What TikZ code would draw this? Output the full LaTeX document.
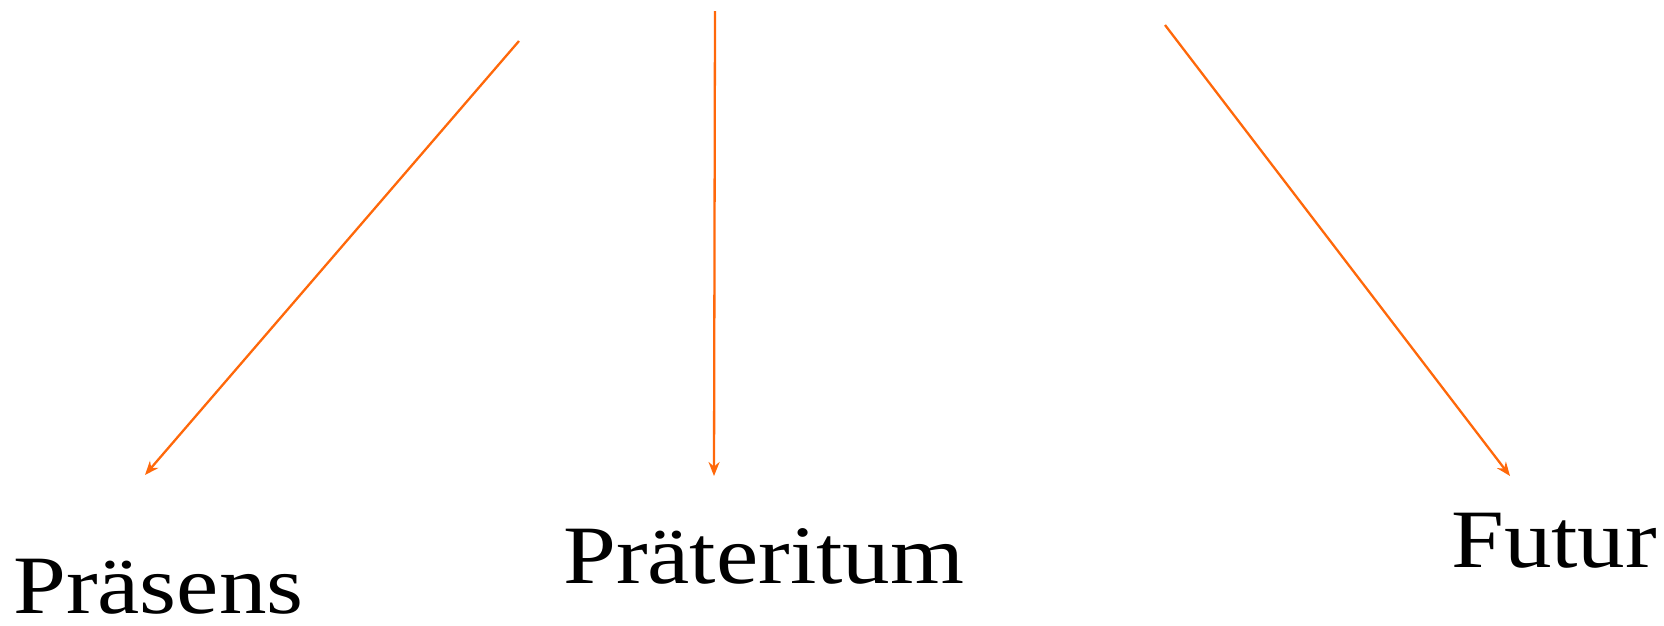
\documentclass[tikz,border=0pt]{standalone}
\usepackage{fontspec}
\setmainfont{Liberation Serif}
\usetikzlibrary{arrows.meta}
\definecolor{arr}{RGB}{255,104,10}
\begin{document}
\begin{tikzpicture}[x=1pt,y=-1pt,
  conn/.style={draw=arr,line width=2.3pt,-{Stealth[length=14pt,width=11pt]}},
  lbl/.style={anchor=base west,inner sep=0pt,text depth=0pt,font=\fontsize{83}{90}\selectfont}]
\useasboundingbox (0,0) rectangle (1664,625);
\node[lbl] (pra) at (13,613) {\scalebox{1.145}[1]{Präsens}};
\node[lbl] (prt) at (563,583) {\scalebox{1.145}[1]{Präteritum}};
\node[lbl] (fut) at (1451,567) {\scalebox{1.145}[1]{Futur}};
\coordinate (s1) at (519,41);
\coordinate (e1) at (145,475);
\coordinate (s2) at (715,11);
\coordinate (e2) at (714,476);
\coordinate (s3) at (1165,25);
\coordinate (e3) at (1510,476);
\draw[conn] (s1) -- (e1);
\draw[conn] (s2) -- (e2);
\draw[conn] (s3) -- (e3);
\end{tikzpicture}
\end{document}
